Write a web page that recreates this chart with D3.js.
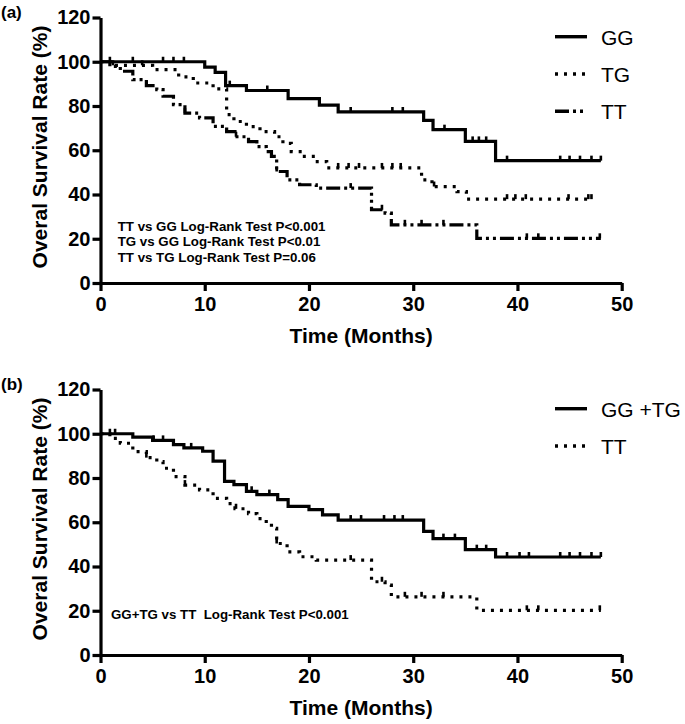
<!DOCTYPE html>
<html>
<head>
<meta charset="utf-8">
<script src="https://cdn.jsdelivr.net/npm/d3@7"></script>
<style>
  html, body { margin: 0; padding: 0; background: #fff; }
  svg { display: block; font-family: "Liberation Sans", Arial, Helvetica, sans-serif; }
</style>
</head>
<body>
<svg id="chart" width="685" height="724"></svg>
<script>
// ---------- data ----------
const xTicks = [0, 10, 20, 30, 40, 50];
const yTicks = [0, 20, 40, 60, 80, 100, 120];

// Panel (a) GG
const ggTimes = [0, 10, 11, 12, 14, 18, 21, 22.8, 31, 31.9, 35, 37.9, 48];
const ggSurv  = [100, 97.6, 95.2, 89.2, 87, 83.3, 80.4, 77.3, 73.5, 69.3, 64, 55.3, 55.3];
const ggCensor = [0.9, 3.1, 6, 7, 8, 12.4, 16, 24, 28, 29, 33, 35.7, 36.3, 37, 39, 44.1, 45, 46, 47.1, 48];

// Panel (a) TG
const tgTimes = [0, 1, 5, 7.5, 8.9, 10.8, 12.1, 12.8, 14, 15.3, 16.7, 17.5, 18.3, 19.4, 20.6, 21.7, 30.8, 31.8, 34.2, 35.1, 47.1];
const tgSurv  = [100, 98.4, 96.4, 93.2, 90.4, 87.7, 76.1, 73, 70.7, 68.4, 66.1, 63.1, 59.4, 57.2, 54.9, 52, 46.6, 43.6, 41.3, 37.9, 37.9];
const tgCensor = [1.2, 4, 22.8, 23.8, 24.8, 27, 28, 28.8, 32, 39, 39.8, 40.8, 44.9, 46.8, 47.1];

// TT (both panels)
const ttTimes = [0, 0.9, 1.9, 3.1, 4.4, 5.4, 6, 7, 8.1, 9.5, 10.8, 12.1, 12.9, 14.2, 15, 15.9, 16.4, 16.9, 17.9, 19.1, 20.7, 26, 27.3, 27.9, 36.1, 48];
const ttSurv  = [100, 97.9, 95.7, 91.9, 89.2, 87.4, 84.4, 80.6, 76.8, 74.6, 70.8, 68.4, 66.1, 63.9, 61.6, 59.4, 57.2, 50.4, 46.6, 44.4, 42.9, 33.1, 31.6, 26.3, 20.2, 20.2];
const ttCensor = [4.4, 8.1, 13, 16.9, 24, 27, 29.2, 30.8, 32.9, 40.9, 42, 47.9];

// Panel (b) GG+TG
const gtTimes = [0, 3.1, 5, 7, 8, 9.8, 10.8, 11.9, 12.8, 14, 15, 17, 18, 20, 21.3, 22.8, 31, 31.9, 35, 37.9, 48];
const gtSurv  = [100, 98.5, 97, 95.1, 93.6, 92.1, 87.6, 78.5, 77, 74, 72.5, 70.2, 67.2, 65.7, 63.3, 61, 55.9, 52.6, 47.6, 44.3, 44.3];
const gtCensor = [0.9, 1.4, 5.1, 6, 8.7, 14.5, 16.2, 24, 25, 27.2, 28.2, 29, 32.9, 34, 36.1, 37, 39, 40.2, 41.1, 44.1, 45, 46, 47.1, 48];

const legendA = ["GG", "TG", "TT"];
const legendB = ["GG +TG", "TT"];
const notesA = ["TT vs GG Log-Rank Test P<0.001", "TG vs GG Log-Rank Test P<0.01", "TT vs TG Log-Rank Test P=0.06"];
const notesB = ["GG+TG vs TT  Log-Rank Test P<0.001"];
const xTitle = "Time (Months)";
const yTitle = "Overal Survival Rate (%)";

// ---------- drawing ----------
const svg = d3.select("#chart");
const x = d3.scaleLinear().domain([0, 50]).range([100.5, 621.7]);
const y = d3.scaleLinear().domain([0, 120]).range([283, 17.5]);

const STYLE = {
  solid:   { dash: null, w: 3.2 },
  dotted:  { dash: "3,6", w: 3.2 },
  dashdot: { dash: "14,4,3,4,3,4", w: 3.2 }
};

function survAt(times, surv, t) {
  const i = d3.bisectRight(times, t) - 1;
  return surv[Math.max(0, Math.min(i, surv.length - 1))];
}

function drawPanel(offsetY, label, series, legendNames, notes, noteX, noteY0) {
  const g = svg.append("g").attr("transform", `translate(0,${offsetY})`);

  g.append("text").attr("x", 1).attr("y", 18).attr("font-size", 17).attr("font-weight", "bold").text(label);

  // axes
  const ax = g.append("g").attr("transform", `translate(0,${y(0)})`)
    .call(d3.axisBottom(x).tickValues(xTicks).tickSize(8).tickSizeOuter(0).tickPadding(6));
  const ay = g.append("g").attr("transform", `translate(${x(0)},0)`)
    .call(d3.axisLeft(y).tickValues(yTicks).tickSize(8).tickSizeOuter(0).tickPadding(2));
  [ax, ay].forEach(a => {
    a.select(".domain").attr("stroke", "#000").attr("stroke-width", 3.2);
    a.selectAll(".tick line").attr("stroke", "#000").attr("stroke-width", 3.2);
    a.selectAll(".tick text").attr("fill", "#000").attr("font-size", 20).attr("font-weight", "bold")
      .attr("font-family", '"Liberation Sans", Arial, sans-serif');
  });

  g.append("text").attr("x", (x(0) + x(50)) / 2).attr("y", 343)
    .attr("text-anchor", "middle").attr("font-size", 21).attr("font-weight", "bold").text(xTitle);
  g.append("text").attr("transform", `translate(47,147) rotate(-90)`)
    .attr("text-anchor", "middle").attr("font-size", 21).attr("font-weight", "bold").text(yTitle);

  // curves
  const line = d3.line().x(d => x(d[0])).y(d => y(d[1])).curve(d3.curveStepAfter);
  series.forEach(s => {
    const st = STYLE[s.style];
    const pts = s.times.map((t, i) => [t, s.surv[i]]);
    g.append("path").attr("d", line(pts)).attr("fill", "none").attr("stroke", "#000")
      .attr("stroke-width", st.w).attr("stroke-dasharray", st.dash)
      .attr("stroke-linejoin", "miter").attr("stroke-linecap", "butt");
    g.selectAll(null).data(s.censor).enter().append("line")
      .attr("x1", d => x(d)).attr("x2", d => x(d))
      .attr("y1", d => y(survAt(s.times, s.surv, d)))
      .attr("y2", d => y(survAt(s.times, s.surv, d)) - 5)
      .attr("stroke", "#000").attr("stroke-width", 2.6);
  });

  // legend
  legendNames.forEach((name, i) => {
    const st = STYLE[series[i].style];
    const ly = 36.7 + i * 37.3;
    g.append("line").attr("x1", 555).attr("x2", 587).attr("y1", ly).attr("y2", ly)
      .attr("stroke", "#000").attr("stroke-width", 3.4).attr("stroke-dasharray", st.dash);
    g.append("text").attr("x", 601).attr("y", ly + 8).attr("font-size", 21).text(name);
  });

  // notes
  notes.forEach((n, i) => {
    g.append("text").attr("x", noteX).attr("y", noteY0 + i * 15.5)
      .attr("font-size", 13.3).attr("font-weight", "bold")
      .style("white-space", "pre").text(n);
  });
}

drawPanel(0, "(a)", [
  { times: ggTimes, surv: ggSurv, censor: ggCensor, style: "solid" },
  { times: tgTimes, surv: tgSurv, censor: tgCensor, style: "dotted" },
  { times: ttTimes, surv: ttSurv, censor: ttCensor, style: "dashdot" }
], legendA, notesA, 117.7, 230.7);

drawPanel(372, "(b)", [
  { times: gtTimes, surv: gtSurv, censor: gtCensor, style: "solid" },
  { times: ttTimes, surv: ttSurv, censor: ttCensor, style: "dotted" }
], legendB, notesB, 111, 247.3);
</script>
</body>
</html>
